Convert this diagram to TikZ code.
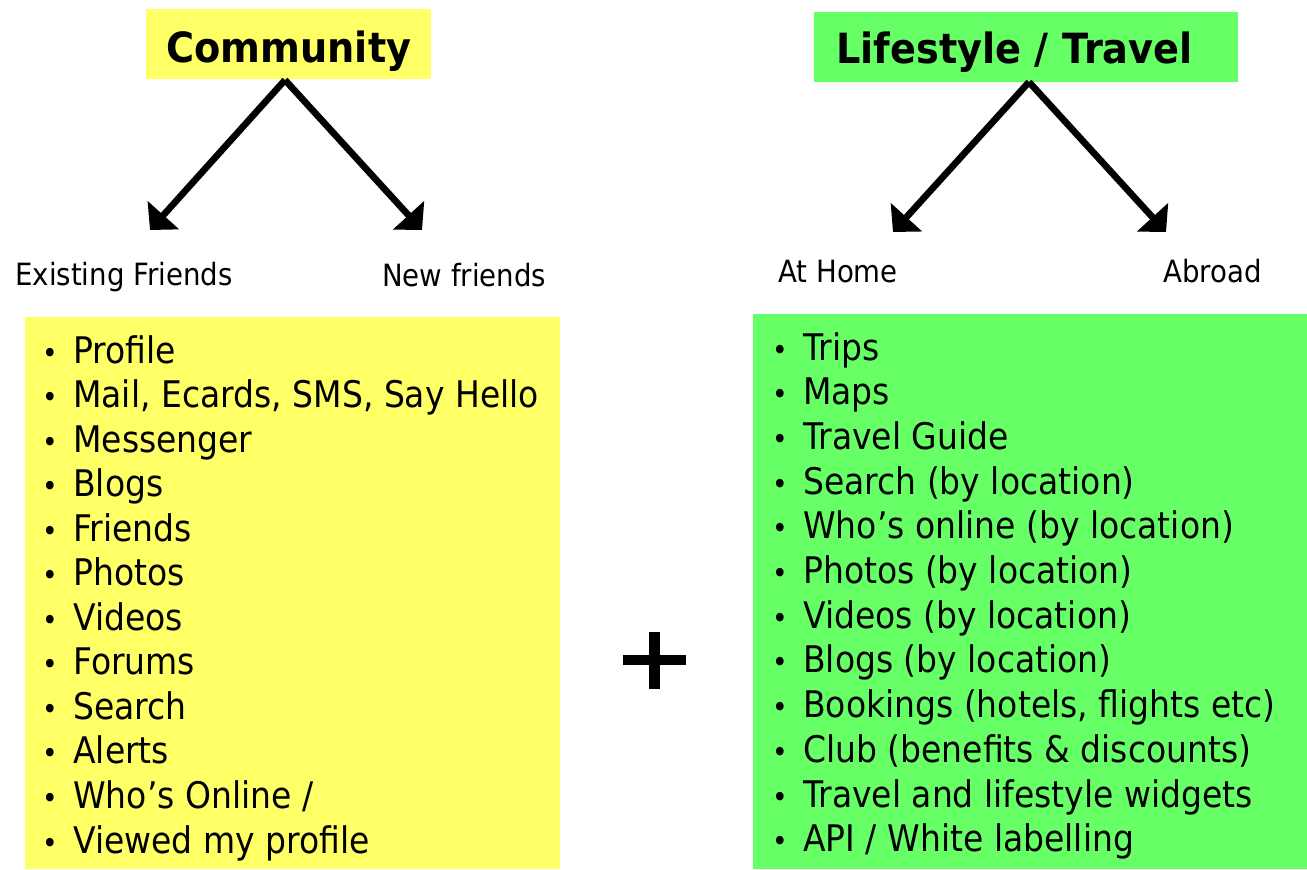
\documentclass[tikz,border=0pt]{standalone}
\usepackage{graphicx}
\usepackage{fontspec}
\usetikzlibrary{arrows.meta,calc}
\newfontfamily\bodyfont[FakeStretch=0.9]{DejaVu Sans}
\newfontfamily\boldfont[FakeStretch=0.92]{DejaVu Sans Bold}
\definecolor{myyellow}{HTML}{FFFF66}
\definecolor{mygreen}{HTML}{66FF66}
\tikzset{
  titlebox/.style={rectangle, inner sep=0pt, draw=none},
  titletext/.style={anchor=base west, inner sep=0pt, font=\boldfont\fontsize{31.2}{36}\selectfont},
  sublabel/.style={anchor=base west, inner sep=0pt, font=\bodyfont\fontsize{23}{27}\selectfont},
  listitem/.style={anchor=base west, inner sep=0pt, font=\bodyfont\fontsize{27.5}{32}\selectfont},
  listbox/.style={rectangle, inner sep=0pt, draw=none, anchor=north west},
  branch/.style={line width=5pt, -{Triangle[width=31pt,length=15pt]}},
}
\newcommand{\bul}[1]{\makebox[0pt]{\scalebox{0.8}{\textbullet}}\hspace{17.25pt}#1}
\begin{document}
\begin{tikzpicture}[x=0.75pt,y=-0.75pt]
\useasboundingbox (0,0) rectangle (1307,869);
% title boxes
\node[titlebox, fill=myyellow, minimum width=213.75pt, minimum height=52.5pt] (comm) at (288.5,44) {};
\node[titletext] (commt) at (166,62) {Community};
\node[titlebox, fill=mygreen, minimum width=318pt, minimum height=52.5pt] (life) at (1026,46.5) {};
\node[titletext] (lifet) at (836,63) {Lifestyle / Travel};
% arrows
\coordinate (cA) at (285,80);
\coordinate (cL) at (150,230);
\coordinate (cR) at (422,230);
\coordinate (lA) at (1029,82);
\coordinate (lL) at (893,232);
\coordinate (lR) at (1166,232);
\draw[branch] (cA) -- (cL);
\draw[branch] (cA) -- (cR);
\draw[branch] (lA) -- (lL);
\draw[branch] (lA) -- (lR);
% sub labels
\node[sublabel] (exist) at (15,285) {Existing Friends};
\node[sublabel] (newf) at (382,286) {New friends};
\node[sublabel] (home) at (778,282) {At Home};
\node[sublabel] (abroad) at (1163,282) {Abroad};
% list boxes
\node[listbox, fill=myyellow, minimum width=401.25pt, minimum height=414pt] (ybox) at (25,317) {};
\node[listbox, fill=mygreen, minimum width=415.5pt, minimum height=416.25pt] (gbox) at (753,314) {};
% yellow items
\foreach \t [count=\i] in {Profile, {Mail, Ecards, SMS, Say Hello}, Messenger, Blogs, Friends, Photos, Videos, Forums, Search, Alerts, Who’s Online /, Viewed my profile}{
  \node[listitem] (y\i) at (50,{363+44.55*(\i-1)}) {\bul{\t}};
}
% green items
\foreach \t [count=\i] in {Trips, Maps, Travel Guide, Search (by location), Who’s online (by location), Photos (by location), Videos (by location), Blogs (by location), {Bookings (hotels, flights etc)}, Club (benefits \& discounts), Travel and lifestyle widgets, API / White labelling}{
  \node[listitem] (g\i) at (780,{360+44.7*(\i-1)}) {\bul{\t}};
}
% plus sign
\fill (623,655) rectangle (686,665);
\fill (649,632) rectangle (660,689);
\end{tikzpicture}
\end{document}
